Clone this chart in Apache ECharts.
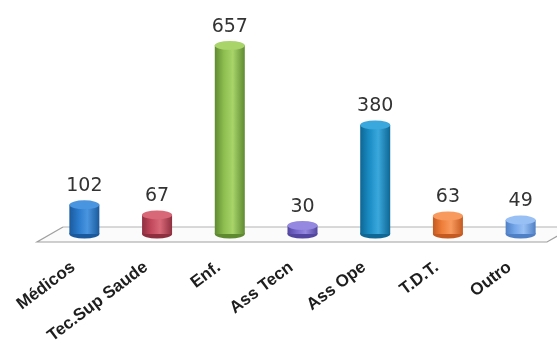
<!DOCTYPE html>
<html>
<head>
<meta charset="utf-8">
<script src="https://cdn.jsdelivr.net/npm/echarts@6/dist/echarts.min.js"></script>
<style>html,body{margin:0;padding:0;background:#fff;}#c{width:557px;height:352px;}</style>
</head>
<body>
<div id="c"></div>
<script>
const categories = ['Médicos', 'Tec.Sup Saude', 'Enf.', 'Ass Tecn', 'Ass Ope', 'T.D.T.', 'Outro'];
const values = [102, 67, 657, 30, 380, 63, 49];
const baseColors = ['#2a7acb', '#c2495c', '#8dbd4f', '#7668cc', '#1a8cc4', '#ef7e3a', '#74a6ea'];
const darkColors = ['#1a5a9c', '#8e2f40', '#5f8a30', '#5346a0', '#0e6794', '#c45a20', '#4f7fc4'];
const lightColors = ['#4a95e0', '#d86878', '#a8d46a', '#9488e0', '#3aa8dc', '#f89a5e', '#98c0f4'];

function grad(i) {
  return new echarts.graphic.LinearGradient(0, 0, 1, 0, [
    {offset: 0, color: darkColors[i]},
    {offset: 0.3, color: baseColors[i]},
    {offset: 0.6, color: lightColors[i]},
    {offset: 1, color: darkColors[i]}
  ]);
}

const chart = echarts.init(document.getElementById('c'));
const option = {
  backgroundColor: '#ffffff',
  animation: false,
  grid: {left: 48, right: 0, top: 33, bottom: 118, containLabel: false},
  xAxis: {
    type: 'category',
    data: categories,
    axisLine: {show: false},
    axisTick: {show: false},
    axisLabel: {
      interval: 0,
      rotate: 37,
      margin: 23,
      padding: [0, 14, 0, 0],
      fontFamily: 'Liberation Sans',
      fontWeight: 'bold',
      fontSize: 17,
      color: '#1e1e1e'
    }
  },
  yAxis: {
    type: 'value', min: 0, max: 700, show: false,
    splitLine: {show: false}
  },
  series: [
    {
      type: 'pictorialBar',
      data: values.map((v, i) => ({value: v, itemStyle: {color: darkColors[i]}})),
      symbol: 'circle',
      symbolSize: [30, 9],
      symbolPosition: 'start',
      symbolOffset: [0, '50%'],
      z: 2
    },
    {
      type: 'bar',
      barWidth: 30,
      data: values.map((v, i) => ({value: v, itemStyle: {color: grad(i)}})),
      label: {
        show: true,
        position: 'top',
        distance: 9,
        fontFamily: 'DejaVu Sans',
        fontSize: 19,
        color: '#333333'
      },
      z: 3
    },
    {
      type: 'pictorialBar',
      data: values.map((v, i) => ({value: v, itemStyle: {color: lightColors[i], borderColor: darkColors[i], borderWidth: 0.5}})),
      symbol: 'circle',
      symbolSize: [30, 9],
      symbolPosition: 'end',
      symbolOffset: [0, '-50%'],
      z: 4
    }
  ]
};
chart.setOption(option);

const base = chart.convertToPixel({yAxisIndex: 0}, 0);
const gl = 48, gr = 557;
chart.setOption({
  graphic: [
    {
      type: 'polygon', z: 0, silent: true,
      shape: {points: [[gl - 11, base + 8], [gl + 15, base - 7], [gr + 16, base - 7], [gr - 10, base + 8]]},
      style: {fill: '#fbfbfb', stroke: null}
    },
    {
      type: 'polyline', z: 1, silent: true,
      shape: {points: [[gl + 15, base - 7], [gr + 16, base - 7]]},
      style: {stroke: '#b4b4b4', lineWidth: 1.2, fill: null}
    },
    {
      type: 'polyline', z: 1, silent: true,
      shape: {points: [[gl + 15, base - 7], [gl - 11, base + 8], [gr - 10, base + 8], [gr + 16, base - 7]]},
      style: {stroke: '#a0a0a0', lineWidth: 1.2, fill: null}
    }
  ]
});
</script>
</body>
</html>
